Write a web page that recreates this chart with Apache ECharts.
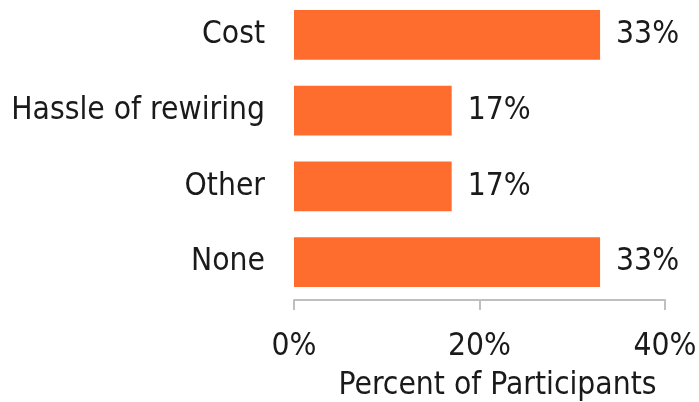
<!DOCTYPE html>
<html><head><meta charset="utf-8">
<script src="https://cdn.jsdelivr.net/npm/echarts@6/dist/echarts.min.js"></script>
<style>html,body{margin:0;padding:0;background:#fff}#c{width:699px;height:402px}</style>
</head><body><div id="c"></div>
<script>
const categories = ["Cost", "Hassle of rewiring", "Other", "None"];
const values = [33, 17, 17, 33];
const xTicks = [0, 20, 40];
const axisTitle = "Percent of Participants";

const chart = echarts.init(document.getElementById('c'), null, {renderer: 'canvas'});
const font = "'DejaVu Sans Condensed', 'DejaVu Sans'";
chart.setOption({
  animation: false,
  grid: {left: 294, right: 34, top: -3, height: 303, containLabel: false, outerBoundsMode: 'none'},
  xAxis: {
    type: 'value', min: xTicks[0], max: xTicks[xTicks.length - 1], interval: 20,
    splitLine: {show: false},
    axisLine: {show: true, lineStyle: {color: '#bfbfbf', width: 2}},
    axisTick: {show: true, length: 10, lineStyle: {color: '#bfbfbf', width: 2}},
    axisLabel: {formatter: v => v + '%', fontFamily: font, fontSize: 31.5, color: '#1a1a1a', margin: 31},
    name: axisTitle, nameLocation: 'middle', nameGap: 70,
    nameTextStyle: {fontFamily: font, fontSize: 31.5, color: '#1a1a1a', padding: [0, 0, 0, 36]}
  },
  yAxis: {
    type: 'category', data: categories, inverse: true,
    axisLine: {show: false}, axisTick: {show: false},
    axisLabel: {fontFamily: font, fontSize: 31.5, color: '#1a1a1a', margin: 29, padding: [4, 0, 0, 0]}
  },
  series: [{
    type: 'bar', data: values, barCategoryGap: '34%',
    itemStyle: {color: '#FF6D2E'},
    label: {show: true, position: 'right', distance: 16, formatter: p => p.value + '%',
      fontFamily: font, fontSize: 31.5, color: '#1a1a1a', padding: [4, 0, 0, 0]}
  }]
});
</script></body></html>
